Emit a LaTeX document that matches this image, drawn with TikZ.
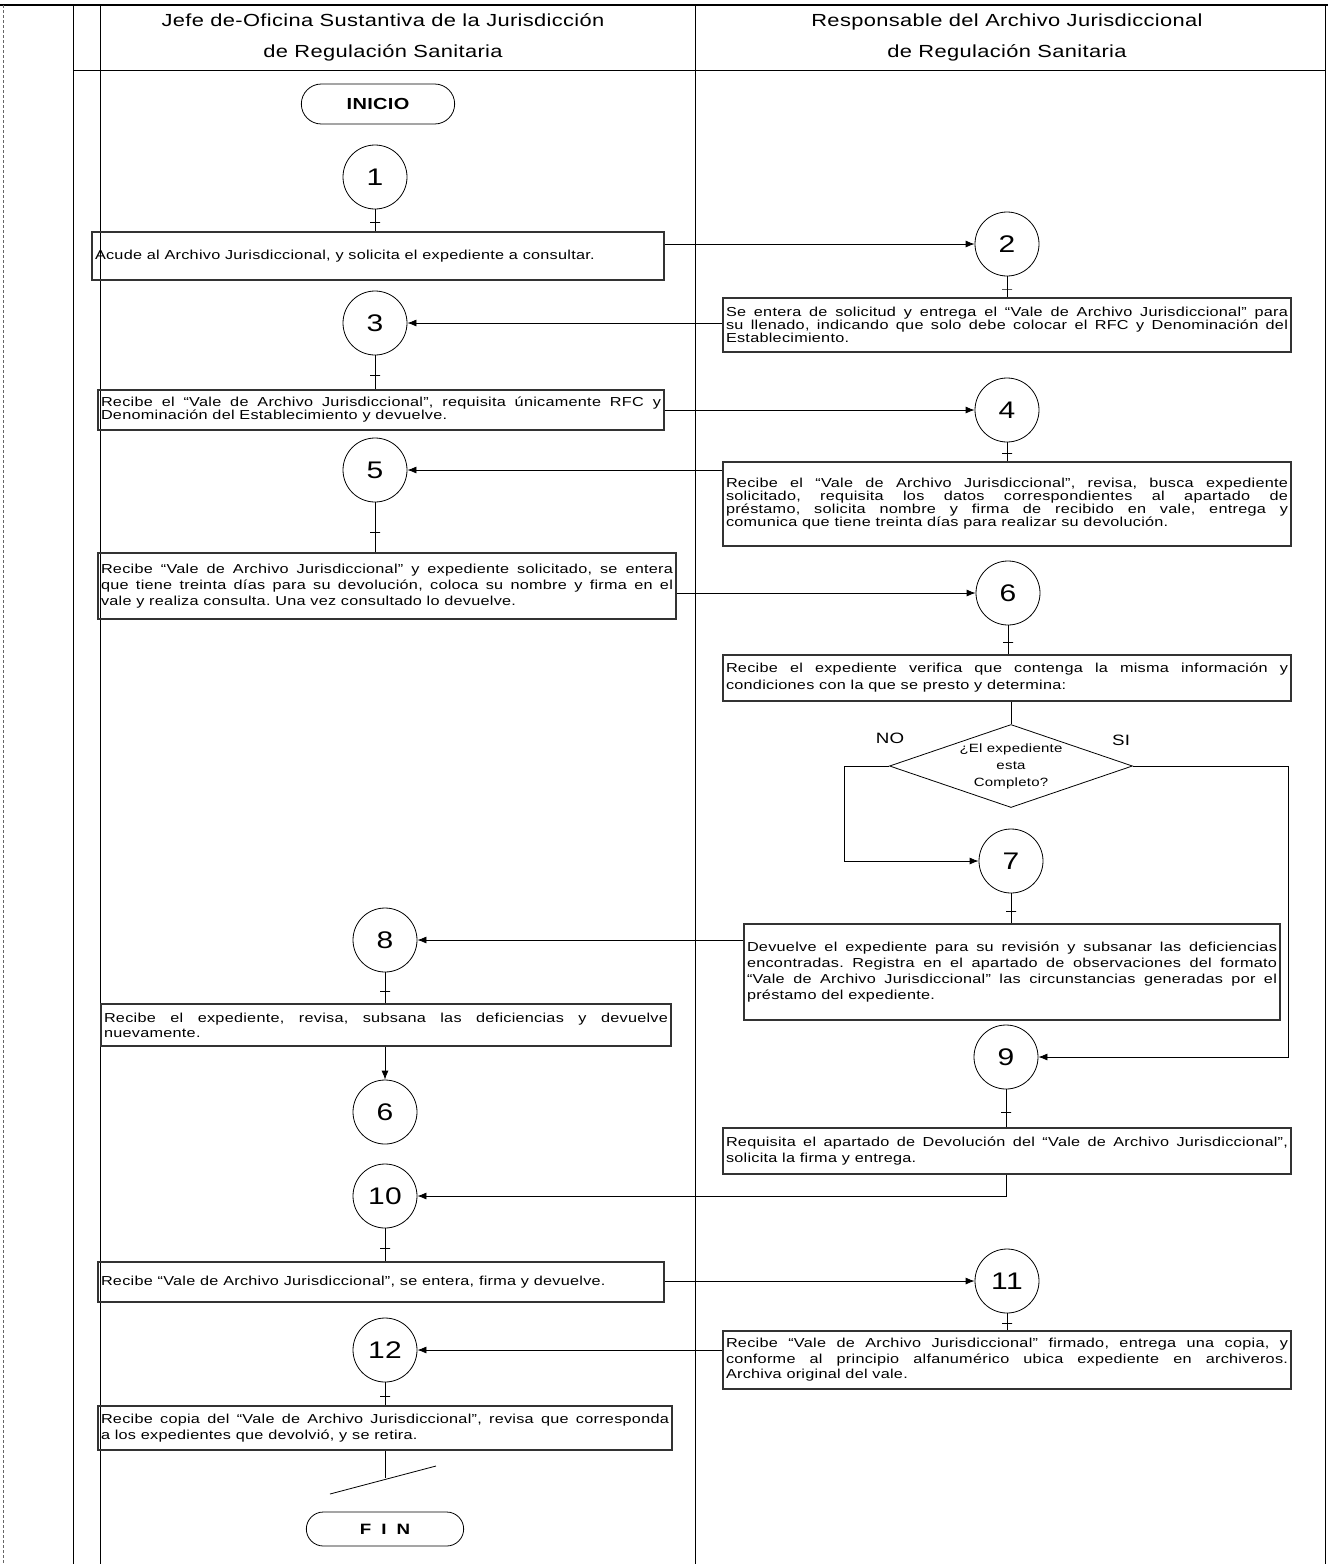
\documentclass[tikz,border=0pt]{standalone}
\usepackage{fontspec}
\setmainfont{Liberation Sans}[FakeStretch=1.25,LetterSpace=2]
\usetikzlibrary{arrows.meta,shapes.geometric,shapes.misc}
\frenchspacing

\begin{document}
\begin{tikzpicture}[x=1pt, y=-1pt, % pixel units, y runs downwards
	> = {Latex[length=9pt,width=7pt]}, % arrow head style
	line width=.8pt,
	every node/.style={font=\fontsize{13}{15}\selectfont},
	conn/.style={circle, draw, minimum size=64pt, inner sep=0pt, font=\fontsize{24}{24}\selectfont},
	term/.style={rounded rectangle, draw, minimum width=160pt, minimum height=40pt, font=\bfseries\fontsize{16}{16}\selectfont},
	actbox/.style={rectangle, draw=black!80, line width=1.2pt, inner xsep=3pt, inner ysep=2pt, align=justify, text width=562pt},
	decision/.style={diamond, draw, aspect=2.93, minimum width=243pt, minimum height=83pt, inner sep=0pt, align=center, font=\fontsize{12}{17}\selectfont},
	crossbar/.style={draw, inner sep=0pt, minimum width=10pt, minimum height=0pt},
	lane/.style={align=center, font=\fontsize{17.5}{31}\selectfont}]
	\useasboundingbox (0,0) rectangle (1328,1564);

	% frame and lanes
	\draw[line width=2.5pt] (0,5) -- (1328,5);
	\draw[densely dashed, black!60] (3,5) -- (3,1564);
	\draw (73,5) -- (73,1564);
	\draw (100,5) -- (100,1564);
	\draw (695,5) -- (695,1564);
	\draw (1325,5) -- (1325,1564);
	\draw (73,70) -- (1325,70);
	\node[lane] (jefe) at (383,37) {Jefe de-Oficina Sustantiva de la Jurisdicción\\de Regulación Sanitaria};
	\node[lane] (resp) at (1007,37) {Responsable del Archivo Jurisdiccional\\de Regulación Sanitaria};

	% left lane
	\node[term] (inicio) at (378,104) {INICIO};
	\node[conn] (c1) at (375,177) {1};
	\node[actbox, text width=566pt, minimum height=48pt] (a1) at (378,256) {Acude al Archivo Jurisdiccional,  y solicita el expediente a consultar.};
	\node[conn] (c3) at (375,323) {3};
	\node[actbox, text width=560pt, minimum height=40pt, font=\fontsize{13}{13}\selectfont] (a3) at (381,410) {Recibe el “Vale de Archivo Jurisdiccional”, requisita únicamente RFC y\linebreak Denominación del Establecimiento y devuelve.};
	\node[conn] (c5) at (375,470) {5};
	\node[actbox, text width=572pt, minimum height=66pt, font=\fontsize{13}{16}\selectfont] (a5) at (387,586) {Recibe “Vale de Archivo Jurisdiccional” y expediente solicitado, se entera\linebreak que tiene treinta días para su devolución,  coloca su nombre y firma en el\linebreak vale y realiza consulta. Una vez consultado lo devuelve.};
	\node[conn] (c8) at (385,940) {8};
	\node[actbox, text width=564pt, minimum height=42pt] (a8) at (386,1025) {Recibe el expediente, revisa, subsana las deficiencias y devuelve\linebreak nuevamente.};
	\node[conn] (c6b) at (385,1112) {6};
	\node[conn] (c10) at (385,1196) {10};
	\node[actbox, text width=560pt, minimum height=40pt] (a10) at (381,1282) {Recibe “Vale de Archivo Jurisdiccional”, se entera, firma y devuelve.};
	\node[conn] (c12) at (385,1350) {12};
	\node[actbox, text width=568pt, minimum height=44pt, font=\fontsize{13}{16}\selectfont] (a12) at (385,1428) {Recibe copia del “Vale de Archivo Jurisdiccional”, revisa que corresponda\linebreak a los expedientes que devolvió, y se retira.};
	\coordinate (cut) at (385,1478);
	\coordinate (cutl) at (330,1494);
	\coordinate (cutr) at (436,1466);
	\node[term, minimum width=164pt, minimum height=34pt, font=\bfseries\fontsize{15}{15}\selectfont] (fin) at (385,1529) {F\hspace{10pt}I\hspace{10pt}N};

	% right lane
	\node[conn] (c2) at (1007,244) {2};
	\node[actbox, minimum height=54pt, font=\fontsize{13}{13}\selectfont] (b2) at (1007,325) {Se entera de solicitud y entrega el “Vale de Archivo Jurisdiccional” para\linebreak su llenado, indicando que solo debe colocar el RFC y Denominación del\linebreak Establecimiento.};
	\node[conn] (c4) at (1007,410) {4};
	\node[actbox, minimum height=84pt, font=\fontsize{13}{13}\selectfont] (b4) at (1007,504) {Recibe el “Vale de Archivo Jurisdiccional”, revisa, busca expediente\linebreak solicitado, requisita los datos correspondientes al apartado de\linebreak préstamo, solicita nombre y firma de recibido en vale, entrega y\linebreak comunica que tiene treinta días para realizar su devolución.};
	\node[conn] (c6) at (1008,593) {6};
	\node[actbox, minimum height=46pt, font=\fontsize{13}{17}\selectfont] (b6) at (1007,678) {Recibe el expediente verifica que contenga la misma información y\linebreak condiciones con la que se presto y determina:};
	\node[decision] (dq) at (1011,766) {¿El expediente\\esta\\Completo?};
	\node[font=\fontsize{15}{15}\selectfont] (no) at (890,738) {NO};
	\node[font=\fontsize{15}{15}\selectfont] (si) at (1121,740) {SI};
	\node[conn] (c7) at (1011,861) {7};
	\node[actbox, text width=530pt, minimum height=96pt, font=\fontsize{13}{16.3}\selectfont] (b7) at (1012,972) {Devuelve el expediente para su revisión y subsanar las deficiencias\linebreak encontradas. Registra en el apartado de observaciones del formato\linebreak “Vale de Archivo Jurisdiccional” las circunstancias generadas por el\linebreak préstamo del expediente.};
	\node[conn] (c9) at (1006,1057) {9};
	\node[actbox, minimum height=46pt, font=\fontsize{13}{16}\selectfont] (b9) at (1007,1151) {Requisita el apartado de Devolución del “Vale de Archivo Jurisdiccional”,\linebreak solicita la firma  y entrega.};
	\node[conn] (c11) at (1007,1281) {11};
	\node[actbox, minimum height=58pt, font=\fontsize{13}{15.5}\selectfont] (b11) at (1007,1360) {Recibe “Vale de Archivo Jurisdiccional” firmado, entrega una copia, y\linebreak conforme al principio alfanumérico ubica expediente en archiveros.\linebreak Archiva original del vale.};

	% connectors
	\draw (c1) -- (c1 |- a1.north) node[crossbar, pos=.6] {};
	\draw[->] (c2 -| a1.east) -- (c2);
	\draw (c2) -- (c2 |- b2.north) node[crossbar, pos=.6] {};
	\draw[->] (c3 -| b2.west) -- (c3);
	\draw (c3) -- (c3 |- a3.north) node[crossbar, pos=.6] {};
	\draw[->] (c4 -| a3.east) -- (c4);
	\draw (c4) -- (c4 |- b4.north) node[crossbar, pos=.6] {};
	\draw[->] (c5 -| b4.west) -- (c5);
	\draw (c5) -- (c5 |- a5.north) node[crossbar, pos=.6] {};
	\draw[->] (c6 -| a5.east) -- (c6);
	\draw (c6) -- (c6 |- b6.north) node[crossbar, pos=.6] {};
	\draw (dq.north |- b6.south) -- (dq.north);
	\draw[->] (dq.west) -- ++(-45,0) |- (c7);
	\draw[->] (dq.east) -- ++(155,0) |- (c9);
	\draw (c7) -- (c7 |- b7.north) node[crossbar, pos=.6] {};
	\draw[->] (c8 -| b7.west) -- (c8);
	\draw (c8) -- (c8 |- a8.north) node[crossbar, pos=.6] {};
	\draw[->] (c6b |- a8.south) -- (c6b);
	\draw (c9) -- (c9 |- b9.north) node[crossbar, pos=.6] {};
	\draw[->] (c9 |- b9.south) |- (c10);
	\draw (c10) -- (c10 |- a10.north) node[crossbar, pos=.6] {};
	\draw[->] (c11 -| a10.east) -- (c11);
	\draw (c11) -- (c11 |- b11.north) node[crossbar, pos=.6] {};
	\draw[->] (c12 -| b11.west) -- (c12);
	\draw (c12) -- (c12 |- a12.north) node[crossbar, pos=.6] {};
	\draw (c12 |- a12.south) -- (cut);
	\draw (cutl) -- (cutr);
\end{tikzpicture}
\end{document}
